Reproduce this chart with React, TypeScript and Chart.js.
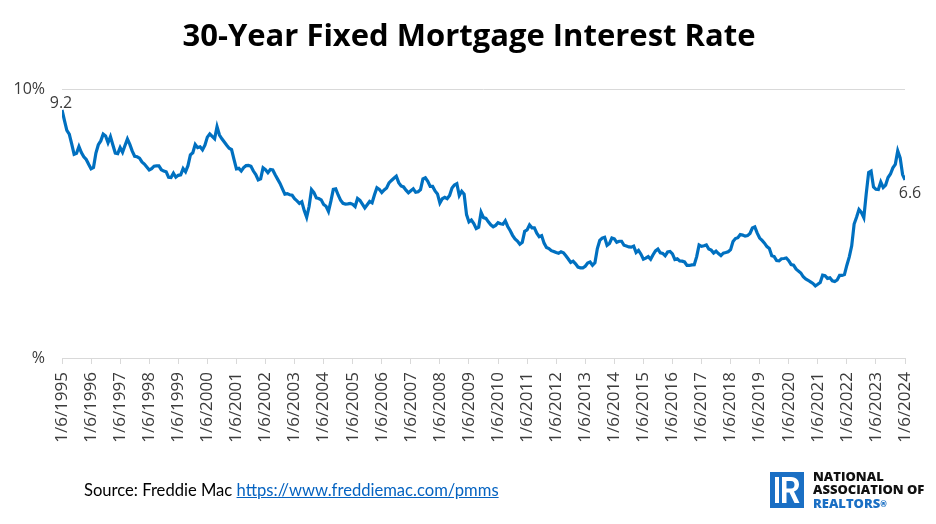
import React, { useEffect, useRef } from "react";
import { Chart, registerables } from "chart.js";

Chart.register(...registerables);

const START_YEAR = 1995;
const END_YEAR = 2024;
const TICK_PREFIX = "1/6/";
const Y_MIN = 0;
const Y_MAX = 10;
const FIRST_LABEL = "9.2";
const LAST_LABEL = "6.6";

// Monthly 30-year fixed rates (%), Jan 1995 .. Jan 2024
const r1995 = [9.22, 8.83, 8.46, 8.32, 7.96, 7.57, 7.61, 7.86, 7.64, 7.48, 7.38, 7.2];
const r1996 = [7.03, 7.08, 7.62, 7.93, 8.07, 8.32, 8.25, 8.0, 8.23, 7.92, 7.62, 7.6];
const r1997 = [7.82, 7.65, 7.9, 8.14, 7.94, 7.69, 7.5, 7.48, 7.43, 7.29, 7.21, 7.1];
const r1998 = [6.99, 7.04, 7.13, 7.14, 7.14, 7.0, 6.95, 6.92, 6.72, 6.71, 6.87, 6.72];
const r1999 = [6.79, 6.81, 7.04, 6.92, 7.15, 7.55, 7.63, 7.94, 7.82, 7.85, 7.74, 7.91];
const r2000 = [8.21, 8.33, 8.24, 8.15, 8.6, 8.29, 8.15, 8.03, 7.91, 7.8, 7.75, 7.38];
const r2001 = [7.03, 7.05, 6.95, 7.08, 7.15, 7.16, 7.13, 6.95, 6.82, 6.62, 6.66, 7.07];
const r2002 = [7.0, 6.89, 7.01, 6.99, 6.81, 6.65, 6.49, 6.29, 6.09, 6.11, 6.07, 6.05];
const r2003 = [5.92, 5.84, 5.75, 5.81, 5.48, 5.23, 5.63, 6.26, 6.15, 5.95, 5.93, 5.88];
const r2004 = [5.71, 5.64, 5.45, 5.83, 6.27, 6.29, 6.06, 5.87, 5.75, 5.72, 5.73, 5.75];
const r2005 = [5.71, 5.63, 5.93, 5.86, 5.72, 5.58, 5.7, 5.82, 5.77, 6.07, 6.33, 6.27];
const r2006 = [6.15, 6.25, 6.32, 6.51, 6.6, 6.68, 6.76, 6.52, 6.4, 6.36, 6.24, 6.14];
const r2007 = [6.22, 6.29, 6.16, 6.18, 6.26, 6.66, 6.7, 6.57, 6.38, 6.38, 6.21, 6.1];
const r2008 = [5.76, 5.92, 5.97, 5.92, 6.04, 6.32, 6.43, 6.48, 6.04, 6.2, 6.09, 5.33];
const r2009 = [5.06, 5.13, 5.0, 4.81, 4.86, 5.42, 5.22, 5.19, 5.06, 4.95, 4.88, 4.93];
const r2010 = [5.03, 4.99, 4.97, 5.1, 4.89, 4.74, 4.56, 4.43, 4.35, 4.23, 4.3, 4.71];
const r2011 = [4.76, 4.95, 4.84, 4.84, 4.64, 4.51, 4.55, 4.27, 4.11, 4.07, 3.99, 3.96];
const r2012 = [3.92, 3.89, 3.95, 3.91, 3.8, 3.68, 3.55, 3.6, 3.5, 3.38, 3.35, 3.35];
const r2013 = [3.41, 3.53, 3.57, 3.45, 3.54, 4.07, 4.37, 4.46, 4.49, 4.19, 4.26, 4.46];
const r2014 = [4.43, 4.3, 4.34, 4.34, 4.19, 4.16, 4.13, 4.12, 4.16, 3.92, 4.0, 3.86];
const r2015 = [3.67, 3.71, 3.77, 3.67, 3.84, 3.98, 4.05, 3.91, 3.89, 3.8, 3.94, 3.96];
const r2016 = [3.87, 3.66, 3.69, 3.61, 3.6, 3.57, 3.44, 3.44, 3.46, 3.47, 3.77, 4.2];
const r2017 = [4.15, 4.17, 4.2, 4.05, 4.01, 3.9, 3.97, 3.88, 3.81, 3.9, 3.92, 3.95];
const r2018 = [4.03, 4.33, 4.44, 4.47, 4.59, 4.57, 4.53, 4.55, 4.63, 4.83, 4.87, 4.64];
const r2019 = [4.46, 4.37, 4.27, 4.14, 4.07, 3.8, 3.77, 3.62, 3.61, 3.69, 3.7, 3.72];
const r2020 = [3.62, 3.47, 3.45, 3.31, 3.23, 3.16, 3.02, 2.94, 2.89, 2.83, 2.77, 2.68];
const r2021 = [2.74, 2.81, 3.08, 3.06, 2.96, 2.98, 2.87, 2.84, 2.9, 3.07, 3.07, 3.1];
const r2022 = [3.45, 3.76, 4.17, 4.98, 5.23, 5.52, 5.41, 5.22, 6.11, 6.9, 6.95, 6.36];
const r2023 = [6.27, 6.26, 6.54, 6.34, 6.43, 6.71, 6.84, 7.07, 7.2, 7.7, 7.44, 6.82];
const r2024 = [6.62];

const allRates = [
  ...r1995, ...r1996, ...r1997, ...r1998, ...r1999, ...r2000, ...r2001, ...r2002,
  ...r2003, ...r2004, ...r2005, ...r2006, ...r2007, ...r2008, ...r2009, ...r2010,
  ...r2011, ...r2012, ...r2013, ...r2014, ...r2015, ...r2016, ...r2017, ...r2018,
  ...r2019, ...r2020, ...r2021, ...r2022, ...r2023, ...r2024,
];

const FONT = "'Open Sans', sans-serif";
const TEXT_COLOR = "#3b3b3b";
const LINE_COLOR = "#0070C0";
const GRID_COLOR = "#d9d9d9";

export default function App() {
  const ref = useRef<HTMLCanvasElement>(null);

  useEffect(() => {
    const data = allRates.map((v, i) => ({ x: START_YEAR + i / 12, y: v }));

    const endLabels = {
      id: "endLabels",
      afterDatasetsDraw(chart: any) {
        const meta = chart.getDatasetMeta(0);
        const pts = meta.data;
        if (!pts.length) return;
        const ctx = chart.ctx;
        ctx.save();
        ctx.font = `16px ${FONT}`;
        ctx.fillStyle = TEXT_COLOR;
        ctx.textAlign = "center";
        ctx.textBaseline = "middle";
        const f = pts[0];
        ctx.fillText(FIRST_LABEL, f.x - 1, f.y - 7);
        const l = pts[pts.length - 1];
        ctx.fillText(LAST_LABEL, l.x + 5, l.y + 14);
        ctx.restore();
      },
    };

    const chart = new Chart(ref.current!, {
      type: "line",
      data: {
        datasets: [
          {
            data,
            borderColor: LINE_COLOR,
            borderWidth: 3.2,
            pointRadius: 0,
            tension: 0,
            fill: false,
          },
        ],
      },
      options: {
        responsive: false,
        animation: false,
        devicePixelRatio: 1,
        layout: { padding: { top: 89, left: 8, right: 31, bottom: 66 } },
        plugins: {
          legend: { display: false },
          tooltip: { enabled: false },
          title: { display: false },
        },
        scales: {
          x: {
            type: "linear",
            min: START_YEAR,
            max: END_YEAR,
            afterFit: (s: any) => {
              s.height = 100;
            },
            ticks: {
              stepSize: 1,
              autoSkip: false,
              minRotation: 90,
              maxRotation: 90,
              padding: 8,
              color: TEXT_COLOR,
              font: { family: FONT, size: 17 },
              callback: (v: any) => TICK_PREFIX + v,
            },
            grid: {
              drawOnChartArea: false,
              drawTicks: true,
              tickLength: 6,
              color: GRID_COLOR,
            },
            border: { display: true, color: GRID_COLOR, width: 1 },
          },
          y: {
            min: Y_MIN,
            max: Y_MAX,
            afterFit: (s: any) => {
              s.width = 54;
            },
            ticks: {
              stepSize: 10,
              padding: 17,
              color: TEXT_COLOR,
              font: { family: FONT, size: 16 },
              callback: (v: any) => (v === 0 ? "%" : v + "%"),
            },
            grid: { drawTicks: false, color: GRID_COLOR },
            border: { display: false },
          },
        },
      },
      plugins: [endLabels],
    });
    return () => chart.destroy();
  }, []);

  return (
    <div
      style={{
        position: "fixed",
        left: 0,
        top: 0,
        width: 936,
        height: 524,
        background: "#fff",
        overflow: "hidden",
      }}
    >
      <canvas ref={ref} width={936} height={524} style={{ position: "absolute", left: 0, top: 0 }} />
      <div
        style={{
          position: "absolute",
          left: 0,
          top: 13,
          width: 938,
          textAlign: "center",
          fontFamily: FONT,
          fontWeight: 700,
          fontSize: 31,
          lineHeight: "42px",
          color: "#000",
        }}
      >
        30-Year Fixed Mortgage Interest Rate
      </div>
      <div
        style={{
          position: "absolute",
          left: 84,
          top: 479,
          fontFamily: "Lato, sans-serif",
          fontSize: 16.6,
          lineHeight: "22px",
          color: "#000",
          whiteSpace: "nowrap",
        }}
      >
        Source: Freddie Mac{" "}
        <span style={{ color: "#0563C1", textDecoration: "underline" }}>https://www.freddiemac.com/pmms</span>
      </div>
      <svg
        width={34}
        height={36}
        viewBox="0 0 34 36"
        style={{ position: "absolute", left: 770, top: 472 }}
      >
        <rect x={0} y={0} width={34} height={36} fill="#1a6fc4" />
        <rect x={5} y={5} width={4} height={26} fill="#fff" />
        <path
          d="M12 5 H21 C27 5 29 9 29 12.5 C29 16 27 18.5 24 19.5 L29.5 31 H24.5 L19.5 20.5 H16.5 V31 H12 Z M16.5 9 V16.5 H21 C23.5 16.5 24.5 15 24.5 12.7 C24.5 10.5 23.5 9 21 9 Z"
          fill="#fff"
        />
      </svg>
      <div
        style={{
          position: "absolute",
          left: 813,
          top: 470,
          fontFamily: FONT,
          fontWeight: 800,
          fontSize: 13,
          lineHeight: "13.3px",
          color: "#111",
          whiteSpace: "nowrap",
        }}
      >
        <div>NATIONAL</div>
        <div>ASSOCIATION OF</div>
        <div style={{ color: "#1a6fc4" }}>
          REALTORS<span style={{ fontSize: 8, verticalAlign: "top" }}>®</span>
        </div>
      </div>
    </div>
  );
}
